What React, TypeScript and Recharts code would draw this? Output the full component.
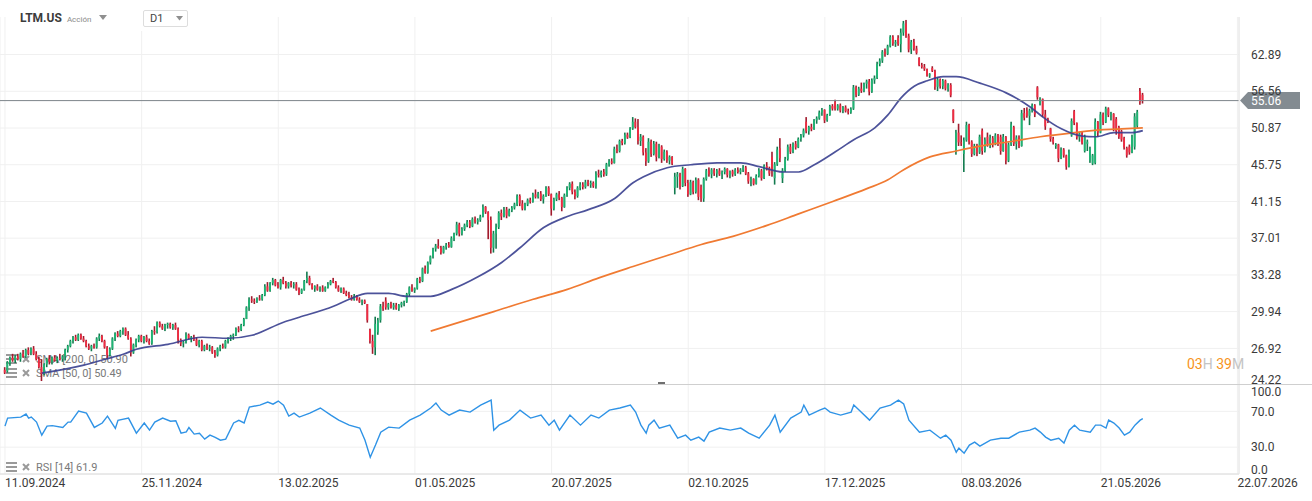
import React from "react";
import { ComposedChart, Bar, Line, XAxis, YAxis, CartesianGrid, ReferenceLine } from "recharts";

const FONT = "Roboto, 'Open Sans', sans-serif";

// x axis: bar index of each date label
const dateLabels = ["11.09.2024", "25.11.2024", "13.02.2025", "01.05.2025", "20.07.2025", "02.10.2025", "17.12.2025", "08.03.2026", "21.05.2026", "22.07.2026"];
const dateTickBars = [0, 52, 104, 156, 208, 260, 312, 364, 417, 469];
const priceTicks = [24.22, 26.92, 29.94, 33.28, 37.01, 41.15, 45.75, 50.87, 56.56, 62.89];
const rsiTicks = [0, 30, 70, 100];

const lastPrice = 55.06;
const sma200Last = 50.9;
const sma50Last = 50.49;
const rsiLast = 61.9;

// daily candles, LTM.US
const opens = [
  25.3, 25.2, 25.8, 26.2, 26.0, 26.3, 26.1, 26.5, 26.3, 26.8,
  26.6, 26.9, 26.5, 26.1, 25.5, 25.0, 25.7, 26.1, 25.9, 26.2,
  26.0, 26.2, 26.1, 26.3, 26.8, 27.1, 27.5, 27.8, 27.6, 28.0,
  27.7, 27.5, 27.1, 26.9, 27.1, 27.0, 27.7, 27.9, 27.5, 27.0,
  26.4, 26.9, 27.7, 28.1, 27.9, 28.3, 28.5, 28.0, 27.7, 26.6,
  27.2, 27.6, 27.9, 27.5, 27.8, 27.5, 27.3, 28.3, 28.2, 29.0,
  28.7, 28.5, 28.8, 28.9, 28.6, 28.8, 28.5, 27.6, 27.3, 27.4,
  28.0, 27.7, 27.8, 27.6, 27.2, 27.5, 26.8, 27.1, 26.9, 27.0,
  26.6, 26.4, 26.9, 27.1, 27.0, 27.5, 27.7, 27.9, 28.0, 28.5,
  28.4, 28.8, 29.3, 30.3, 31.0, 30.9, 30.8, 31.1, 31.0, 31.4,
  32.2, 31.8, 32.5, 32.8, 32.3, 32.1, 32.8, 32.5, 32.2, 32.5,
  32.3, 32.4, 31.9, 31.6, 31.9, 32.7, 33.0, 32.4, 32.0, 32.2,
  31.9, 32.1, 31.8, 32.1, 32.4, 32.7, 32.6, 32.1, 31.8, 32.0,
  31.6, 31.4, 31.2, 31.0, 31.3, 31.0, 30.8, 30.9, 30.6, 28.4,
  27.5, 27.0, 28.2, 29.2, 30.4, 30.9, 30.3, 30.6, 30.3, 30.5,
  30.2, 30.5, 30.7, 30.8, 31.5, 32.1, 31.8, 32.0, 32.9, 32.7,
  33.9, 33.5, 34.5, 35.1, 35.9, 36.2, 36.0, 35.5, 36.1, 36.3,
  36.1, 37.0, 37.5, 38.5, 37.5, 38.0, 38.4, 38.8, 38.3, 39.1,
  38.8, 39.0, 39.4, 40.5, 39.9, 39.0, 36.0, 37.5, 38.2, 39.8,
  39.4, 40.2, 39.5, 40.1, 40.4, 40.8, 41.8, 40.9, 40.3, 40.8,
  41.3, 41.1, 42.0, 41.7, 42.1, 41.4, 41.8, 42.8, 42.0, 40.3,
  41.4, 42.0, 41.6, 40.5, 41.9, 42.8, 43.3, 42.3, 41.8, 42.8,
  43.2, 42.9, 43.5, 43.2, 43.4, 43.0, 44.6, 44.4, 44.8, 44.5,
  45.8, 46.2, 46.0, 47.9, 47.6, 49.0, 48.7, 49.9, 49.5, 50.8,
  51.8, 51.0, 49.0, 49.6, 47.4, 46.2, 48.9, 47.2, 48.6, 46.8,
  48.2, 46.5, 47.5, 46.3, 46.8, 42.8, 44.2, 44.5, 43.0, 45.2,
  43.4, 42.0, 43.5, 42.3, 43.8, 42.9, 41.5, 43.9, 45.0, 44.5,
  45.1, 44.6, 45.0, 44.5, 44.8, 45.2, 44.4, 44.9, 44.5, 45.1,
  44.8, 45.1, 45.4, 44.6, 43.6, 43.9, 43.3, 44.3, 45.0, 44.0,
  45.6, 45.3, 46.8, 44.0, 45.8, 48.0, 44.0, 45.0, 46.5, 48.2,
  47.5, 48.6, 48.1, 49.3, 49.8, 51.8, 50.4, 51.0, 50.7, 52.0,
  52.3, 53.2, 53.6, 52.0, 52.8, 54.2, 54.8, 53.8, 54.3, 53.5,
  54.0, 53.4, 53.2, 53.8, 57.2, 56.0, 57.0, 56.6, 57.8, 58.2,
  56.5, 58.4, 58.8, 61.2, 61.8, 63.4, 63.0, 64.4, 66.2, 64.9,
  66.0, 64.8, 67.0, 68.8, 66.4, 63.8, 65.2, 64.0, 62.3, 61.0,
  60.7, 60.3, 59.2, 60.5, 60.0, 57.3, 58.5, 57.4, 58.3, 57.0,
  57.6, 53.6, 47.5, 50.2, 48.8, 47.2, 49.1, 51.3, 48.9, 47.2,
  48.3, 47.4, 50.5, 47.6, 49.6, 48.5, 49.4, 48.6, 49.8, 49.6,
  47.6, 49.6, 46.3, 48.5, 51.0, 48.6, 49.5, 48.3, 53.1, 53.5,
  52.7, 53.5, 54.3, 57.2, 54.6, 55.3, 52.9, 52.2, 50.8, 49.3,
  48.3, 48.5, 46.6, 47.8, 47.0, 45.5, 49.8, 53.4, 51.6, 49.5,
  50.1, 47.6, 48.6, 46.3, 45.9, 46.0, 51.8, 50.2, 52.9, 51.7,
  53.8, 52.8, 53.0, 52.2, 51.0, 50.4, 49.4, 48.0, 48.2, 47.4, 48.2, 51.2, 56.6, 56.0,
];
const highs = [
  25.5, 25.95, 26.3, 26.5, 26.4, 26.5, 26.6, 26.8, 26.9, 27.0,
  27.0, 27.1, 26.7, 26.3, 26.1, 25.8, 26.2, 26.4, 26.3, 26.4,
  26.3, 26.5, 26.4, 26.9, 27.2, 27.6, 27.9, 28.0, 28.1, 28.1,
  27.9, 27.6, 27.3, 27.2, 27.3, 27.8, 28.1, 28.0, 27.6, 27.1,
  27.0, 27.8, 28.2, 28.3, 28.4, 28.6, 28.6, 28.3, 27.8, 27.3,
  27.7, 28.0, 28.0, 27.9, 28.0, 27.7, 28.4, 28.7, 29.1, 29.1,
  28.9, 28.9, 29.0, 29.0, 28.9, 29.0, 28.6, 27.7, 27.5, 28.2,
  28.1, 27.9, 28.0, 27.8, 27.6, 27.6, 27.2, 27.3, 27.2, 27.1,
  26.8, 27.0, 27.2, 27.3, 27.6, 27.8, 28.0, 28.1, 28.6, 28.7,
  28.9, 29.4, 30.4, 31.2, 31.3, 31.1, 31.2, 31.4, 31.5, 32.4,
  32.6, 32.6, 33.0, 32.9, 32.6, 32.9, 33.1, 32.7, 32.6, 32.7,
  32.6, 32.6, 32.1, 32.0, 32.8, 33.6, 33.2, 32.5, 32.3, 32.4,
  32.2, 32.3, 32.2, 32.6, 32.8, 33.0, 32.7, 32.3, 32.1, 32.1,
  31.8, 31.7, 31.4, 31.5, 31.4, 31.2, 31.0, 31.0, 30.6, 28.5,
  28.0, 29.5, 29.4, 30.6, 30.8, 31.2, 30.7, 30.8, 30.7, 30.7,
  30.6, 30.8, 30.9, 31.6, 32.2, 32.4, 32.1, 33.0, 33.1, 34.0,
  34.2, 34.6, 35.2, 36.0, 36.4, 36.9, 36.2, 36.2, 36.5, 36.6,
  37.2, 37.6, 38.8, 38.7, 38.2, 38.6, 39.0, 39.0, 39.3, 39.4,
  39.2, 39.6, 40.8, 40.6, 40.0, 39.4, 37.8, 38.6, 40.0, 40.2,
  40.5, 40.5, 40.3, 40.6, 41.0, 42.0, 42.0, 41.3, 41.0, 41.5,
  41.6, 42.2, 42.6, 42.3, 42.4, 42.0, 43.0, 43.0, 42.1, 41.6,
  42.2, 42.4, 41.7, 42.1, 43.0, 43.5, 43.6, 42.6, 43.0, 43.5,
  43.5, 43.8, 43.8, 43.7, 43.6, 44.9, 45.1, 45.0, 45.2, 46.0,
  46.5, 46.6, 48.2, 48.5, 49.2, 49.3, 50.2, 50.2, 51.0, 52.5,
  52.3, 52.2, 50.0, 49.8, 48.0, 49.4, 49.2, 49.0, 48.9, 48.6,
  48.4, 47.8, 47.7, 47.0, 46.9, 44.7, 44.8, 44.7, 45.5, 45.3,
  43.8, 43.8, 43.7, 44.1, 44.0, 43.2, 44.1, 45.2, 45.4, 45.3,
  45.3, 45.2, 45.3, 45.0, 45.4, 45.3, 45.0, 45.1, 45.3, 45.4,
  45.3, 45.7, 45.6, 44.8, 44.2, 44.0, 44.5, 45.3, 45.2, 45.8,
  46.1, 45.5, 47.5, 46.1, 48.2, 49.4, 45.3, 46.8, 48.5, 48.6,
  48.8, 49.0, 49.5, 50.0, 50.8, 52.5, 51.2, 51.5, 52.2, 52.6,
  53.5, 53.9, 53.7, 53.0, 54.4, 54.5, 55.2, 54.5, 54.6, 54.2,
  54.3, 53.8, 54.0, 57.6, 57.5, 57.3, 58.0, 58.0, 58.5, 58.6,
  58.7, 59.2, 61.6, 62.2, 63.7, 64.0, 64.7, 66.5, 66.5, 65.6,
  66.5, 67.8, 69.3, 69.5, 66.8, 65.6, 65.8, 64.5, 62.4, 61.4,
  61.2, 60.4, 59.6, 60.8, 60.2, 58.9, 58.7, 58.6, 58.5, 57.9,
  57.9, 53.7, 50.6, 51.5, 49.8, 49.5, 51.8, 51.5, 49.1, 48.6,
  48.6, 49.9, 50.8, 49.5, 50.2, 49.9, 49.7, 50.1, 50.0, 49.9,
  50.0, 49.7, 48.8, 51.8, 51.2, 49.8, 49.8, 53.6, 53.9, 54.0,
  53.8, 54.6, 54.5, 57.4, 55.6, 55.4, 53.6, 52.4, 50.9, 49.6,
  48.7, 48.6, 48.1, 48.0, 47.1, 47.8, 52.3, 53.6, 51.7, 50.3,
  50.3, 49.9, 49.2, 48.2, 47.2, 52.3, 51.9, 53.3, 53.2, 54.1,
  54.0, 53.3, 53.1, 52.5, 51.2, 50.6, 49.6, 48.2, 48.5, 49.9, 53.1, 53.6, 57.1, 56.3,
];
const lows = [
  25.0, 25.1, 25.6, 25.9, 25.8, 26.0, 25.9, 26.2, 26.2, 26.4,
  26.4, 26.4, 26.0, 25.4, 24.5, 24.9, 25.5, 25.7, 25.7, 25.9,
  25.8, 26.0, 25.9, 26.0, 26.6, 27.0, 27.3, 27.5, 27.5, 27.6,
  27.4, 27.0, 26.8, 26.7, 26.9, 26.9, 27.5, 27.4, 26.9, 26.1,
  26.3, 26.8, 27.5, 27.8, 27.8, 28.0, 27.9, 27.6, 26.3, 26.5,
  27.0, 27.4, 27.4, 27.3, 27.4, 27.2, 27.2, 28.0, 28.1, 28.6,
  28.4, 28.3, 28.5, 28.5, 28.4, 28.4, 27.3, 27.1, 27.0, 27.3,
  27.6, 27.4, 27.5, 27.1, 27.0, 26.7, 26.7, 26.8, 26.7, 26.5,
  26.2, 26.3, 26.7, 26.9, 26.9, 27.3, 27.5, 27.6, 27.9, 28.2,
  28.3, 28.7, 29.3, 30.0, 30.7, 30.6, 30.7, 30.9, 30.9, 31.3,
  31.7, 31.7, 32.3, 32.2, 32.0, 31.9, 32.4, 32.0, 32.0, 32.1,
  32.0, 31.8, 31.4, 31.5, 31.8, 32.5, 32.3, 31.9, 31.7, 31.8,
  31.7, 31.7, 31.7, 32.0, 32.3, 32.5, 32.0, 31.7, 31.6, 31.5,
  31.3, 31.1, 30.9, 30.9, 30.9, 30.7, 30.5, 30.6, 29.0, 27.3,
  26.5, 26.4, 28.0, 29.0, 30.0, 30.1, 30.1, 30.2, 30.1, 30.1,
  30.0, 30.3, 30.4, 30.7, 31.3, 31.7, 31.6, 31.9, 32.5, 32.6,
  33.4, 33.4, 34.3, 34.9, 35.6, 35.9, 35.3, 35.4, 35.8, 36.0,
  36.0, 36.7, 37.3, 37.2, 37.3, 37.8, 38.2, 38.1, 38.2, 38.6,
  38.5, 38.8, 39.3, 39.7, 36.9, 35.4, 35.5, 35.9, 38.0, 39.0,
  39.3, 39.2, 39.4, 39.9, 40.2, 40.6, 40.6, 40.1, 40.1, 40.6,
  40.9, 41.0, 41.5, 41.5, 41.2, 40.9, 41.7, 41.8, 39.5, 40.1,
  41.2, 41.3, 40.0, 40.4, 41.7, 42.5, 42.0, 41.4, 41.6, 42.5,
  42.6, 42.7, 43.0, 42.8, 42.8, 42.7, 44.1, 44.1, 44.2, 44.3,
  45.5, 45.8, 45.9, 47.3, 47.4, 48.4, 48.5, 49.3, 49.4, 50.6,
  50.8, 48.5, 48.3, 47.0, 45.6, 46.0, 46.8, 47.0, 46.2, 46.6,
  46.0, 46.3, 46.0, 45.8, 45.7, 42.0, 42.8, 42.6, 42.9, 43.0,
  41.7, 41.9, 42.0, 42.1, 41.3, 41.1, 41.1, 43.7, 44.2, 44.0,
  44.3, 44.1, 44.3, 43.9, 44.5, 44.1, 44.0, 44.2, 44.3, 44.6,
  44.5, 44.8, 44.4, 43.3, 43.0, 43.1, 43.2, 44.1, 43.7, 43.9,
  45.0, 44.3, 44.2, 43.2, 45.6, 46.1, 43.4, 44.8, 46.3, 47.2,
  47.3, 47.8, 48.0, 48.9, 49.5, 50.1, 49.9, 50.4, 50.6, 51.5,
  52.1, 52.7, 51.6, 51.8, 52.7, 53.5, 53.5, 53.5, 53.2, 53.1,
  53.2, 52.9, 53.0, 53.6, 55.6, 55.8, 56.3, 56.4, 57.0, 55.9,
  56.3, 57.8, 58.6, 60.8, 61.4, 62.5, 62.8, 64.2, 64.5, 64.3,
  64.5, 63.3, 66.4, 66.0, 63.3, 63.0, 63.6, 62.9, 60.8, 60.4,
  60.0, 59.0, 58.8, 59.8, 56.8, 56.6, 57.0, 56.9, 56.7, 56.5,
  55.6, 51.6, 47.1, 48.3, 48.3, 44.8, 48.9, 48.5, 46.8, 47.0,
  46.9, 47.2, 47.1, 47.4, 48.2, 48.0, 48.1, 48.4, 48.3, 47.1,
  47.5, 45.8, 46.1, 48.3, 48.3, 47.8, 48.0, 48.2, 52.0, 52.4,
  51.3, 53.2, 52.5, 55.2, 54.3, 52.5, 50.6, 51.6, 48.9, 48.5,
  47.9, 46.1, 46.5, 46.7, 45.1, 45.4, 49.6, 51.3, 49.2, 48.9,
  48.5, 47.4, 47.6, 46.0, 45.7, 45.8, 49.6, 50.1, 51.3, 51.6,
  52.5, 52.0, 50.4, 49.9, 49.3, 48.9, 47.8, 46.7, 47.1, 47.3, 47.8, 50.9, 54.4, 54.6,
];
const closes = [
  25.1, 25.85, 26.2, 26.0, 26.3, 26.1, 26.5, 26.3, 26.8, 26.5,
  26.9, 26.5, 26.1, 25.5, 25.0, 25.7, 26.1, 25.9, 26.2, 26.0,
  26.2, 26.1, 26.3, 26.8, 27.1, 27.5, 27.8, 27.6, 28.0, 27.7,
  27.5, 27.1, 26.9, 27.1, 27.0, 27.7, 27.9, 27.5, 27.0, 26.4,
  26.9, 27.7, 28.1, 27.9, 28.3, 28.5, 28.0, 27.7, 26.6, 27.2,
  27.6, 27.9, 27.5, 27.8, 27.5, 27.3, 28.3, 28.2, 29.0, 28.7,
  28.5, 28.8, 28.9, 28.6, 28.8, 28.5, 27.6, 27.3, 27.4, 28.0,
  27.7, 27.8, 27.6, 27.2, 27.5, 26.8, 27.1, 26.9, 27.0, 26.6,
  26.4, 26.9, 27.1, 27.0, 27.5, 27.7, 27.9, 28.0, 28.5, 28.4,
  28.8, 29.3, 30.3, 31.0, 30.9, 30.8, 31.1, 31.0, 31.4, 32.2,
  31.8, 32.5, 32.8, 32.3, 32.1, 32.8, 32.5, 32.2, 32.5, 32.3,
  32.4, 31.9, 31.6, 31.9, 32.7, 33.0, 32.4, 32.0, 32.2, 31.9,
  32.1, 31.8, 32.1, 32.4, 32.7, 32.6, 32.1, 31.8, 32.0, 31.6,
  31.4, 31.2, 31.0, 31.3, 31.0, 30.8, 30.9, 30.7, 29.2, 27.5,
  27.0, 28.9, 29.2, 30.4, 30.2, 30.3, 30.6, 30.3, 30.5, 30.2,
  30.5, 30.7, 30.8, 31.5, 32.1, 31.8, 32.0, 32.9, 32.7, 33.9,
  33.5, 34.5, 35.1, 35.9, 36.2, 36.0, 35.5, 36.1, 36.3, 36.1,
  37.0, 37.5, 38.5, 37.5, 38.0, 38.4, 38.8, 38.3, 39.1, 38.8,
  39.0, 39.4, 40.5, 39.9, 39.0, 36.0, 37.5, 38.2, 39.8, 39.4,
  40.2, 39.5, 40.1, 40.4, 40.8, 41.8, 40.9, 40.3, 40.8, 41.3,
  41.1, 42.0, 41.7, 42.1, 41.4, 41.8, 42.8, 42.0, 40.3, 41.4,
  42.0, 41.6, 40.5, 41.9, 42.8, 43.3, 42.3, 41.8, 42.8, 43.2,
  42.9, 43.5, 43.2, 43.4, 43.0, 44.6, 44.4, 44.8, 44.5, 45.8,
  46.2, 46.0, 47.9, 47.6, 49.0, 48.7, 49.9, 49.5, 50.8, 51.8,
  51.0, 49.0, 49.6, 47.4, 46.2, 48.9, 47.2, 48.6, 46.8, 48.2,
  46.5, 47.5, 46.3, 46.8, 45.9, 44.2, 44.5, 43.0, 45.2, 43.4,
  42.0, 43.5, 42.3, 43.8, 41.7, 41.5, 43.9, 45.0, 44.5, 45.1,
  44.6, 45.0, 44.5, 44.8, 45.2, 44.4, 44.9, 44.5, 45.1, 44.8,
  45.1, 45.4, 44.6, 43.6, 43.9, 43.3, 44.3, 45.0, 44.0, 45.6,
  45.3, 44.6, 45.0, 45.8, 47.8, 46.6, 45.0, 46.5, 48.2, 47.5,
  48.6, 48.1, 49.3, 49.8, 50.5, 50.4, 51.0, 50.7, 52.0, 52.3,
  53.2, 53.6, 52.0, 52.8, 54.2, 53.8, 53.8, 54.3, 53.5, 54.0,
  53.4, 53.2, 53.8, 57.2, 56.0, 57.0, 56.6, 57.8, 58.2, 56.5,
  58.4, 58.8, 61.2, 61.8, 63.4, 63.0, 64.4, 66.2, 64.9, 65.2,
  64.8, 67.0, 68.8, 66.4, 63.8, 65.2, 64.0, 63.2, 61.0, 60.7,
  60.3, 59.2, 59.4, 60.0, 57.3, 58.5, 57.4, 58.3, 57.0, 57.6,
  55.9, 51.9, 50.2, 48.8, 48.7, 49.1, 51.3, 48.9, 47.2, 48.3,
  47.4, 49.6, 47.6, 49.2, 48.5, 49.4, 48.6, 49.8, 48.7, 47.6,
  49.6, 46.3, 48.5, 51.4, 48.6, 49.5, 48.3, 53.1, 52.4, 52.7,
  53.5, 54.3, 52.9, 55.6, 55.3, 52.9, 51.1, 51.8, 49.3, 48.8,
  48.5, 46.6, 47.8, 47.0, 45.5, 47.4, 51.9, 51.6, 49.5, 50.1,
  48.7, 49.6, 48.9, 47.9, 47.0, 51.8, 50.2, 52.9, 51.7, 53.8,
  52.8, 53.0, 50.8, 50.4, 49.6, 49.2, 48.1, 47.0, 47.4, 49.6, 52.6, 53.3, 54.8, 55.06,
];

// moving averages, [bar, value]
const sma50Points: [number, number][] = [
  [14, 25.06], [30, 25.65], [38, 26.09], [45, 26.47], [50, 26.85], [62, 27.24], [75, 27.8],
  [85, 27.72], [94, 27.96], [106, 29.03], [112, 29.45], [125, 30.4], [131, 31.02], [138, 31.56],
  [146, 31.56], [153, 31.29], [162, 31.29], [170, 31.92], [180, 33.1], [189, 34.5], [196, 36.0],
  [205, 38.16], [214, 39.4], [222, 40.19], [232, 41.5], [239, 43.44], [243, 44.2], [252, 45.36],
  [261, 45.75], [271, 46.0], [280, 46.0], [287, 45.5], [296, 44.8], [302, 44.8], [308, 45.75],
  [316, 47.5], [323, 49.17], [331, 50.9], [336, 52.84], [341, 55.5], [346, 57.4], [351, 58.3],
  [357, 59.0], [362, 59.0], [371, 57.9], [381, 56.3], [390, 54.1], [395, 52.5], [402, 50.75],
  [410, 49.7], [415, 49.6], [422, 50.2], [429, 50.2], [433, sma50Last],
];
const sma200Points: [number, number][] = [
  [162, 28.3], [186, 29.94], [201, 31.02], [214, 31.92], [226, 33.0], [239, 34.1], [252, 35.2],
  [265, 36.34], [277, 37.2], [290, 38.4], [302, 39.7], [315, 41.15], [328, 42.7], [336, 43.8],
  [342, 45.1], [352, 46.8], [362, 47.6], [370, 48.2], [384, 49.0], [394, 49.6], [407, 50.2],
  [417, 50.6], [425, 50.75], [433, sma200Last],
];

// RSI(14), [bar, value]
const rsiPoints: [number, number][] = [
  [0, 53.5], [1, 62.5], [6, 63.6], [8, 67], [9, 62.5], [10, 63.6], [12, 58], [14, 43.4], [16, 53.5],
  [18, 54], [22, 52], [24, 58], [25, 58], [28, 70.3], [31, 68], [34, 52], [37, 57], [39, 64.7],
  [42, 51], [43, 60], [47, 62.5], [50, 45.7], [53, 57], [55, 49], [57, 58], [60, 62.5], [63, 59],
  [65, 59.5], [67, 45.7], [69, 47], [70, 52], [72, 44.6], [74, 45.5], [76, 39], [78, 43.4],
  [80, 41], [82, 37.8], [84, 39], [87, 57], [89, 60], [91, 57], [93, 74.8], [97, 77], [100, 80.4],
  [102, 78], [104, 81.5], [106, 77], [108, 64.7], [110, 68], [112, 63.6], [116, 68], [120, 73.7],
  [124, 65.8], [127, 60.2], [131, 54.6], [135, 51.3], [137, 37.8], [139, 18.8], [141, 32.3],
  [143, 46.8], [146, 52.4], [150, 51.3], [154, 60.2], [158, 65.8], [162, 73.7], [164, 79.3],
  [166, 71.4], [169, 65.8], [173, 71.4], [177, 69.2], [181, 77], [185, 82.6], [186, 49],
  [188, 54.6], [192, 60.2], [196, 71.4], [200, 62.5], [204, 65.8], [207, 54.6], [209, 60.2],
  [211, 49], [215, 65.8], [219, 54.6], [223, 65.8], [226, 62.5], [230, 71.4], [234, 73.7],
  [238, 77], [240, 69.2], [242, 54.6], [244, 45.7], [245, 54.6], [247, 60.2], [249, 51.3],
  [253, 54.6], [256, 40], [259, 43.4], [261, 37.8], [264, 41.2], [266, 36.7], [268, 46.8],
  [272, 51.3], [276, 49], [280, 51.3], [283, 45.7], [287, 40], [291, 54.6], [293, 65.8],
  [295, 46.8], [299, 62.5], [303, 69.2], [304, 77], [306, 65.8], [310, 71.4], [312, 73.7],
  [314, 69.2], [318, 65.8], [322, 69.2], [323, 77], [325, 71.4], [329, 60.2], [333, 73.7],
  [337, 77], [340, 82.6], [342, 78.2], [344, 60.2], [348, 46.8], [352, 49], [356, 40], [358, 43.4],
  [360, 37.8], [362, 24.4], [363, 28.9], [365, 23.3], [367, 32.3], [369, 35.6], [371, 31.1],
  [375, 37.8], [379, 40], [382, 40], [386, 46.8], [390, 49], [392, 51.3], [394, 46.8], [396, 41.2],
  [398, 37.8], [401, 40], [403, 34.5], [405, 49], [407, 54.6], [409, 49], [413, 46.8], [415, 54.6],
  [417, 54.6], [419, 51.3], [420, 60.2], [422, 56.9], [424, 51.3], [426, 43.4], [428, 46.8],
  [430, 54.6], [432, 60.2], [433, rsiLast],
];

const barDomain: [number, number] = [-1.9, 469.6];
const priceDomain: [number, number] = [24.22, 73.62];

const priceRows = closes.map((c, i) => ({
  i,
  range: [lows[i], highs[i]],
  o: opens[i],
  h: highs[i],
  l: lows[i],
  c,
  sma50: null as number | null,
  sma200: null as number | null,
}));
sma50Points.forEach(([i, v]) => { priceRows[i].sma50 = v; });
sma200Points.forEach(([i, v]) => { priceRows[i].sma200 = v; });

const rsiRows = closes.map((_, i) => ({ i, rsi: null as number | null }));
rsiPoints.forEach(([i, v]) => { rsiRows[i].rsi = v; });

const UP = "#1fb574";
const UP_WICK = "#127a4e";
const DOWN = "#ef2b41";
const DOWN_WICK = "#a11a2c";

// thin candle: wick spans low..high, body placed on the log scale between them
const Candle = (props: any) => {
  const { x, y, width, height, payload } = props;
  if (!payload || height == null) return null;
  const cx = x + width / 2;
  const { o, h, l, c } = payload;
  const span = Math.log(h) - Math.log(l);
  const toY = (v: number) => (span > 0 ? y + (height * (Math.log(h) - Math.log(v))) / span : y);
  const up = c >= o;
  const top = toY(Math.max(o, c));
  const bot = toY(Math.min(o, c));
  return (
    <g>
      <rect x={cx - 0.8} y={y} width={1.6} height={Math.max(height, 1)} fill={up ? UP_WICK : DOWN_WICK} />
      <rect x={cx - 0.9} y={top} width={1.8} height={Math.max(bot - top, 1)} fill={up ? UP : DOWN} />
    </g>
  );
};

const PriceTick = (props: any) => {
  const { x, y, payload } = props;
  const v = payload.value as number;
  const dy = v === priceTicks[0] ? -5 : 0;
  return (
    <text x={x} y={y + dy} dy="0.35em" textAnchor="start" fill="#3a3a3a" fontSize={12} fontFamily={FONT}>
      {v.toFixed(2)}
    </text>
  );
};

const RsiTick = (props: any) => {
  const { x, y, payload } = props;
  const v = payload.value as number;
  const dy = v === 100 ? 7.5 : v === 0 ? -4 : 0;
  return (
    <text x={x} y={y + dy} dy="0.35em" textAnchor="start" fill="#3a3a3a" fontSize={12} fontFamily={FONT}>
      {v.toFixed(1)}
    </text>
  );
};

const DateTick = (props: any) => {
  const { x, y, payload } = props;
  const idx = dateTickBars.indexOf(payload.value);
  return (
    <text x={x} y={y + 9} dy="0.35em" textAnchor="start" fill="#3a3a3a" fontSize={12} fontFamily={FONT}>
      {dateLabels[idx] ?? ""}
    </text>
  );
};

const PriceTag = (props: any) => {
  const vb = props.viewBox || {};
  const right = (vb.x ?? 0) + (vb.width ?? 0);
  const cy = vb.y ?? 0;
  const pts = `${right + 1},${cy} ${right + 9},${cy - 8.5} ${right + 61},${cy - 8.5} ${right + 61},${cy + 8.5} ${right + 9},${cy + 8.5}`;
  return (
    <g>
      <polygon points={pts} fill="#838b91" />
      <text x={right + 12} y={cy} dy="0.36em" fill="#ffffff" fontSize={12} fontFamily={FONT}>
        {lastPrice.toFixed(2)}
      </text>
    </g>
  );
};

const ListIcon = () => (
  <svg width={11} height={10} style={{ display: "block" }}>
    <rect x={0} y={0} width={11} height={2} fill="#9a9a9a" />
    <rect x={0} y={4} width={11} height={2} fill="#9a9a9a" />
    <rect x={0} y={8} width={11} height={2} fill="#9a9a9a" />
  </svg>
);

const CloseIcon = () => (
  <svg width={8} height={8} style={{ display: "block" }}>
    <path d="M1 1 L7 7 M7 1 L1 7" stroke="#9a9a9a" strokeWidth={2} />
  </svg>
);

const LegendRow = ({ top, text }: { top: number; text: string }) => (
  <div style={{ position: "absolute", left: 6, top, height: 14, display: "flex", alignItems: "center", fontFamily: FONT, fontSize: 11, color: "#7a7a7a" }}>
    <ListIcon />
    <div style={{ width: 5 }} />
    <CloseIcon />
    <div style={{ width: 6 }} />
    <span>{text}</span>
  </div>
);

export default function App() {
  return (
    <div style={{ position: "absolute", left: 0, top: 0, width: 1312, height: 501, background: "#fff", overflow: "hidden", fontFamily: FONT }}>
      {/* indicator captions sit under the plot */}
      <LegendRow top={352} text={`SMA [200, 0] ${sma200Last.toFixed(2)}`} />
      <LegendRow top={366} text={`SMA [50, 0] ${sma50Last.toFixed(2)}`} />
      <LegendRow top={460} text={`RSI [14] ${rsiLast.toFixed(1)}`} />

      <div style={{ position: "absolute", left: 0, top: 0 }}>
        <ComposedChart width={1312} height={385} data={priceRows} margin={{ top: 0, right: 0, bottom: 0, left: 0 }}>
          <CartesianGrid stroke="#f0f0f0" />
          <XAxis dataKey="i" type="number" domain={barDomain} ticks={dateTickBars} allowDataOverflow hide />
          <YAxis
            orientation="right"
            scale="log"
            domain={priceDomain}
            ticks={priceTicks}
            allowDataOverflow
            width={73}
            tickSize={0}
            tickMargin={12}
            tickLine={false}
            axisLine={{ stroke: "#e6e6e6" }}
            tick={<PriceTick />}
            interval={0}
          />
          <Bar dataKey="range" shape={<Candle />} barSize={2} isAnimationActive={false} />
          <Line type="monotone" dataKey="sma200" stroke="#f07a32" strokeWidth={1.7} dot={false} connectNulls isAnimationActive={false} />
          <Line type="monotone" dataKey="sma50" stroke="#383f8f" strokeWidth={1.7} strokeOpacity={0.9} dot={false} connectNulls isAnimationActive={false} />
          <ReferenceLine y={lastPrice} stroke="#7d858b" strokeWidth={1} label={<PriceTag />} />
        </ComposedChart>
      </div>

      <div style={{ position: "absolute", left: 0, top: 384 }}>
        <ComposedChart width={1312} height={117} data={rsiRows} margin={{ top: 0.5, right: 0, bottom: 0, left: 0 }}>
          <CartesianGrid stroke="#f0f0f0" />
          <XAxis
            dataKey="i"
            type="number"
            domain={barDomain}
            ticks={dateTickBars}
            allowDataOverflow
            height={27}
            tickSize={0}
            tickMargin={0}
            tickLine={false}
            axisLine={{ stroke: "#dcdcdc" }}
            tick={<DateTick />}
            interval={0}
          />
          <YAxis
            orientation="right"
            domain={[0, 100]}
            ticks={rsiTicks}
            allowDataOverflow
            width={73}
            tickSize={0}
            tickMargin={12}
            tickLine={false}
            axisLine={{ stroke: "#e6e6e6" }}
            tick={<RsiTick />}
            interval={0}
          />
          <Line dataKey="rsi" stroke="#2f93e6" strokeWidth={1.4} dot={false} connectNulls isAnimationActive={false} />
        </ComposedChart>
      </div>

      {/* panel divider and its handle */}
      <div style={{ position: "absolute", left: 0, top: 384, width: 1312, height: 1, background: "#cfcfcf" }} />
      <div style={{ position: "absolute", left: 658, top: 382, width: 7, height: 2, background: "#6f6f6f" }} />

      {/* header */}
      <div style={{ position: "absolute", left: 0, top: 0, width: 1240, height: 17, background: "#fff" }} />
      <div style={{ position: "absolute", left: 136, top: 0, width: 56, height: 31, background: "#fff" }} />
      <div style={{ position: "absolute", left: 20, top: 11, display: "flex", alignItems: "baseline" }}>
        <span style={{ fontSize: 12, fontWeight: 700, color: "#3c3c3c" }}>LTM.US</span>
        <span style={{ fontSize: 8, color: "#8a8a8a", marginLeft: 5 }}>Acción</span>
      </div>
      <svg style={{ position: "absolute", left: 99, top: 15 }} width={8} height={5}>
        <polygon points="0,0 8,0 4,5" fill="#8f8f8f" />
      </svg>
      <div style={{ position: "absolute", left: 143, top: 10, width: 43, height: 15, border: "1px solid #dddddd", borderRadius: 2, background: "#fff" }}>
        <span style={{ position: "absolute", left: 6, top: 1, fontSize: 11, color: "#444" }}>D1</span>
        <svg style={{ position: "absolute", left: 32, top: 5 }} width={7} height={5}>
          <polygon points="0,0 7,0 3.5,4.5" fill="#8f8f8f" />
        </svg>
      </div>

      {/* market countdown */}
      <div style={{ position: "absolute", left: 1187, top: 355, fontSize: 14, lineHeight: "18px", whiteSpace: "nowrap" }}>
        <span style={{ color: "#f7941d" }}>03</span>
        <span style={{ color: "#c4c4c4" }}>H </span>
        <span style={{ color: "#f7941d" }}>39</span>
        <span style={{ color: "#c4c4c4" }}>M</span>
      </div>
    </div>
  );
}
